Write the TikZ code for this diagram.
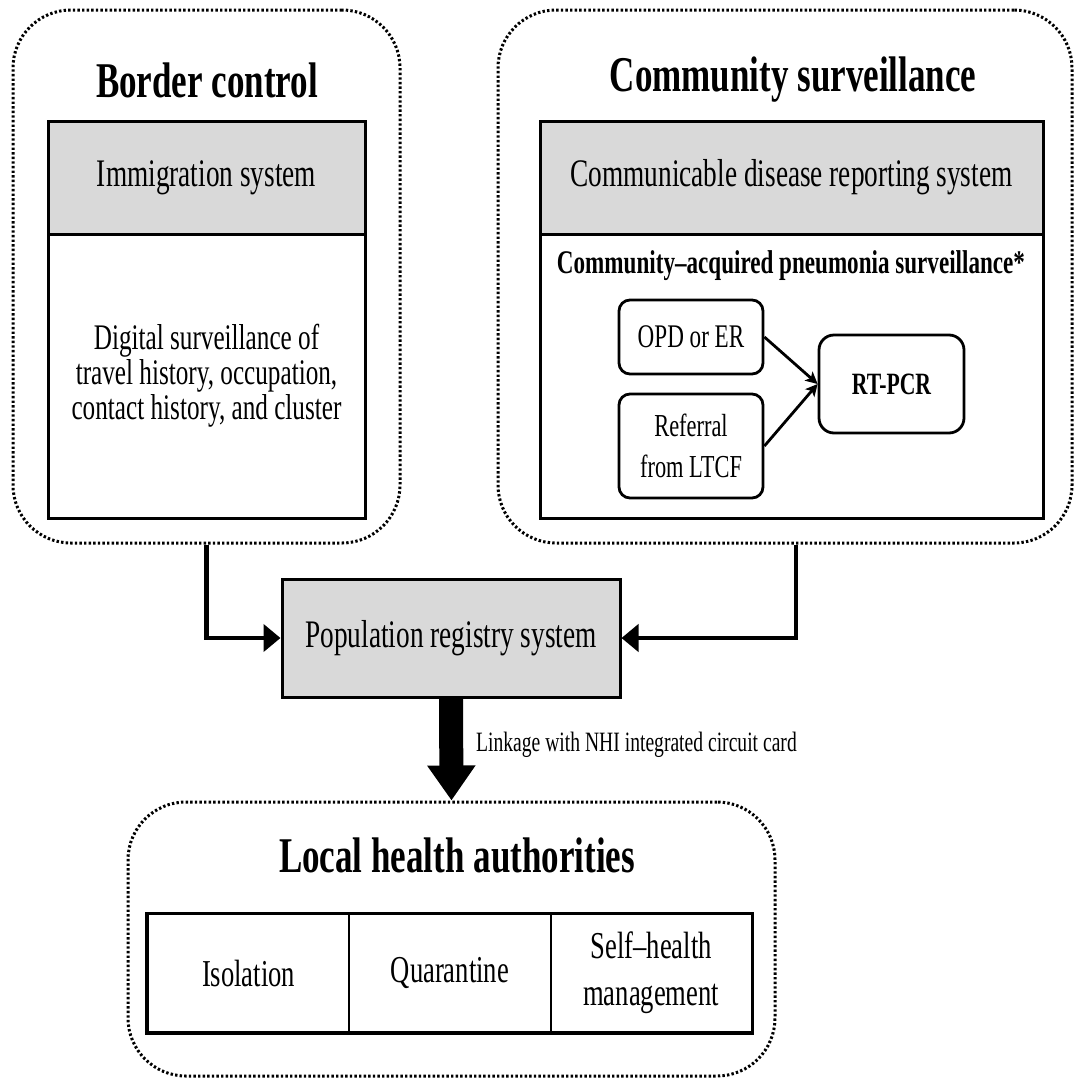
\documentclass[tikz,border=0pt]{standalone}
\usepackage{fontspec}
\setmainfont{Liberation Serif}[FakeStretch=0.7]
\usetikzlibrary{arrows.meta}

\begin{document}
\begin{tikzpicture}[x=1pt, y=-1pt,
zone/.style={draw, line width=3pt, dash pattern=on 2.4pt off 2.2pt, rounded corners=58pt, inner sep=0},
title/.style={font=\fontsize{50}{56}\selectfont\bfseries, inner sep=0},
panel/.style={draw, line width=3pt, inner sep=0, align=center},
head/.style={panel, fill=gray!30, font=\fontsize{39}{44}\selectfont},
site/.style={draw, line width=2.8pt, rounded corners=11pt, inner sep=0, align=center, minimum width=144},
flow/.style={line width=4.5pt, -{Triangle[width=27pt,length=17pt]}},
feed/.style={line width=2.8pt, -{Stealth[width=12pt,length=12pt,inset=3pt]}},
cell/.style={draw, line width=2pt, minimum width=201.3, minimum height=118, inner sep=0, align=center, font=\fontsize{38}{47}\selectfont}]
\useasboundingbox (0,0) rectangle (1076,1079);

\node[zone, minimum width=387, minimum height=533] (border) at (206.5,276.5) {};
\node[zone, minimum width=574, minimum height=533] (comm) at (785,276.5) {};
\node[zone, minimum width=647, minimum height=274] (local) at (451.5,939) {};

\node[title] (bordert) at (207,80) {Border control};
\node[title] (commt) at (793,80) {Community surveillance};
\node[title] (localt) at (457,855) {Local health authorities};

\node[head, minimum width=317, minimum height=113] (immig) at (206.5,177.5) {Immigration system};
\node[panel, minimum width=317, minimum height=284, font=\fontsize{36}{35}\selectfont] (digital) at (206.5,376)
  {Digital surveillance of\\travel history, occupation,\\contact history, and cluster};

\node[head, minimum width=503, minimum height=113] (cdrs) at (791.5,177.5) {Communicable disease reporting system};
\node[panel, minimum width=503, minimum height=284] (capbox) at (791.5,376) {};
\node[font=\fontsize{33}{38}\selectfont\bfseries, inner sep=0] (capt) at (791,266) {Community–acquired pneumonia surveillance*};
\node[site, minimum height=74, font=\fontsize{33}{38}\selectfont] (opd) at (691,337) {OPD or ER};
\node[site, minimum height=104, font=\fontsize{32}{41}\selectfont] (ltcf) at (691,446) {Referral\\from LTCF};
\node[site, minimum width=145, minimum height=98, rounded corners=15pt, font=\fontsize{31}{36}\selectfont\bfseries] (rtpcr) at (891.5,384) {RT-PCR};

\node[head, minimum width=338, minimum height=118] (pop) at (451,638) {Population registry system};

\node[cell] (iso) at (248.6,973) {Isolation};
\node[cell] (quar) at (449.9,973) {Quarantine};
\node[cell] (shm) at (651.2,973) {Self–health\\management};
\draw[line width=3pt] (iso.north west) rectangle (shm.south east);

\draw[flow] (border.south) |- (pop.west);
\draw[flow] ([xshift=11pt]comm.south) |- (pop.east);
\draw[feed] (opd.east) -- (rtpcr.west);
\draw[feed] (ltcf.east) -- (rtpcr.west);
\draw[line width=24pt, -{Triangle[width=46pt,length=35pt]}] (pop.south) -- (local.north);
\node[anchor=west, inner sep=0, font=\fontsize{28}{32}\selectfont] (link) at (476,745) {Linkage with NHI integrated circuit card};
\end{tikzpicture}
\end{document}
